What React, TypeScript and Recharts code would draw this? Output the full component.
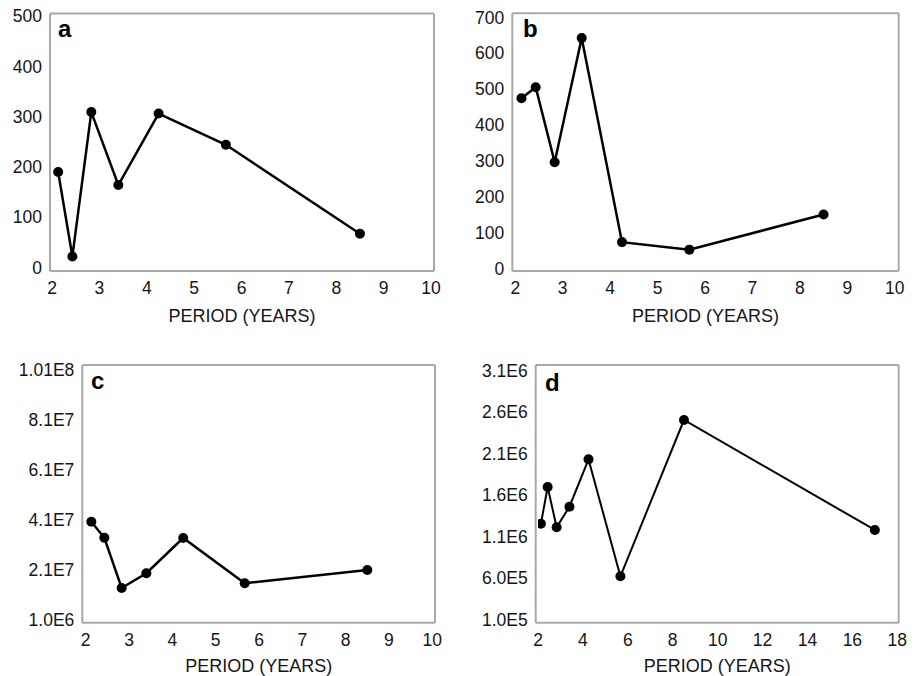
import React from 'react';
import { LineChart, Line, XAxis, YAxis, Label } from 'recharts';

// ---------- data ----------
const periodsABC = [2.13, 2.43, 2.83, 3.4, 4.25, 5.67, 8.5];
const periodsD = [2.13, 2.43, 2.83, 3.4, 4.25, 5.67, 8.5, 17];

const valuesA = [190, 22, 309, 164, 306, 244, 67];
const valuesB = [474, 505, 296, 642, 73, 52, 150];
const valuesC = [40.3e6, 33.9e6, 13.8e6, 19.7e6, 33.8e6, 15.7e6, 21.0e6];
const valuesD = [1.254e6, 1.696e6, 1.21e6, 1.459e6, 2.03e6, 0.619e6, 2.505e6, 1.178e6];

const xTicks10 = [2, 3, 4, 5, 6, 7, 8, 9, 10];
const xMinor10 = [2, 2.5, 3, 3.5, 4, 4.5, 5, 5.5, 6, 6.5, 7, 7.5, 8, 8.5, 9, 9.5, 10];
const xTicks18 = [2, 4, 6, 8, 10, 12, 14, 16, 18];
const xMinor18 = [2, 3, 4, 5, 6, 7, 8, 9, 10, 11, 12, 13, 14, 15, 16, 17, 18];

const yTicksA = [0, 100, 200, 300, 400, 500];
const yTicksB = [0, 100, 200, 300, 400, 500, 600, 700];
const yTicksC = [1e6, 2.1e7, 4.1e7, 6.1e7, 8.1e7, 1.01e8];
const yLabelsC = ['1.0E6', '2.1E7', '4.1E7', '6.1E7', '8.1E7', '1.01E8'];
const yTicksD = [1e5, 6e5, 1.1e6, 1.6e6, 2.1e6, 2.6e6, 3.1e6];
const yLabelsD = ['1.0E5', '6.0E5', '1.1E6', '1.6E6', '2.1E6', '2.6E6', '3.1E6'];

const xTitle = 'PERIOD (YEARS)';

const build = (xs: number[], ys: number[]) => xs.map((p, i) => ({ period: p, value: ys[i] }));

const GRAY = '#a8a8a8';
const FONT = '"Liberation Sans", Arial, sans-serif';

type PanelProps = {
  left: number; top: number; width: number; height: number;
  margin: { top: number; right: number; bottom: number; left: number };
  yWidth: number; xHeight: number;
  data: { period: number; value: number }[];
  xDomain: [number, number]; xTicks: number[]; xMinor: number[];
  yDomain: [number, number]; yTicks: number[]; yLabels?: string[];
  xPad: { left: number; right: number }; yPad: { top: number; bottom: number };
  labelOffset: number; strokeWidth: number;
};

function Panel(p: PanelProps) {
  const fmt = (v: number, i: number) => (p.yLabels ? p.yLabels[p.yTicks.indexOf(v)] ?? String(v) : String(v));
  return (
    <div style={{ position: 'absolute', left: p.left, top: p.top }}>
      <LineChart width={p.width} height={p.height} data={p.data} margin={p.margin}>
        <XAxis
          dataKey="period" type="number" domain={p.xDomain} ticks={p.xTicks} interval={0}
          padding={p.xPad} height={p.xHeight} allowDataOverflow
          axisLine={{ stroke: GRAY, strokeWidth: 2 }} tickLine={false} tickSize={0} tickMargin={11}
          tick={{ fontSize: 17.5, fill: '#151515', fontFamily: FONT }}
        >
          <Label value={xTitle} position="insideBottom" offset={p.labelOffset}
            style={{ fontSize: 18, fill: '#151515', fontFamily: FONT }} />
        </XAxis>
        <XAxis
          xAxisId="minor" dataKey="period" type="number" domain={p.xDomain} ticks={p.xMinor} interval={0}
          padding={p.xPad} height={20} mirror allowDataOverflow
          axisLine={false} tick={false} tickSize={3} tickLine={{ stroke: GRAY, strokeWidth: 1.5 }}
        />
        <XAxis
          xAxisId="top" orientation="top" dataKey="period" type="number" domain={p.xDomain} ticks={p.xTicks}
          padding={p.xPad} height={20} mirror allowDataOverflow
          axisLine={{ stroke: GRAY, strokeWidth: 2 }} tick={false} tickLine={false}
        />
        <YAxis
          type="number" domain={p.yDomain} ticks={p.yTicks} interval={0} width={p.yWidth}
          padding={p.yPad} allowDataOverflow tickFormatter={fmt}
          axisLine={{ stroke: GRAY, strokeWidth: 2 }} tickLine={false} tickSize={0} tickMargin={8}
          tick={{ fontSize: 17.5, fill: '#151515', fontFamily: FONT }}
        />
        <YAxis
          yAxisId="minor" type="number" domain={p.yDomain} ticks={p.yTicks} interval={0} width={20}
          padding={p.yPad} mirror allowDataOverflow
          axisLine={false} tick={false} tickSize={3} tickLine={{ stroke: GRAY, strokeWidth: 1.5 }}
        />
        <YAxis
          yAxisId="right" orientation="right" type="number" domain={p.yDomain} ticks={p.yTicks} width={20}
          padding={p.yPad} mirror allowDataOverflow
          axisLine={{ stroke: GRAY, strokeWidth: 2 }} tick={false} tickLine={false}
        />
        <Line
          type="linear" dataKey="value" stroke="#000" strokeWidth={p.strokeWidth}
          dot={{ r: 5, fill: '#000', stroke: '#000', strokeWidth: 0 }}
          isAnimationActive={false}
        />
      </LineChart>
    </div>
  );
}

export default function App() {
  return (
    <div style={{ position: 'absolute', left: 0, top: 0, width: 916, height: 676, background: '#fff', overflow: 'hidden' }}>
      <Panel
        left={0} top={0} width={458} height={340}
        margin={{ top: 13.5, right: 24, bottom: 9, left: 0 }} yWidth={50} xHeight={60}
        data={build(periodsABC, valuesA)}
        xDomain={[2, 10]} xTicks={xTicks10} xMinor={xMinor10}
        yDomain={[0, 500]} yTicks={yTicksA}
        xPad={{ left: 2, right: 3 }} yPad={{ top: 2.5, bottom: 3.5 }}
        labelOffset={9} strokeWidth={2.5}
      />
      <Panel
        left={458} top={0} width={458} height={340}
        margin={{ top: 13.3, right: 17.3, bottom: 9, left: 0 }} yWidth={54.3} xHeight={60}
        data={build(periodsABC, valuesB)}
        xDomain={[2, 10]} xTicks={xTicks10} xMinor={xMinor10}
        yDomain={[0, 700]} yTicks={yTicksB}
        xPad={{ left: 3, right: 4 }} yPad={{ top: 4, bottom: 2.7 }}
        labelOffset={9} strokeWidth={2.5}
      />
      <Panel
        left={0} top={340} width={458} height={336}
        margin={{ top: 25, right: 23, bottom: 0, left: 0 }} yWidth={82.3} xHeight={53.3}
        data={build(periodsABC, valuesC)}
        xDomain={[2, 10]} xTicks={xTicks10} xMinor={xMinor10}
        yDomain={[1e6, 1.01e8]} yTicks={yTicksC} yLabels={yLabelsC}
        xPad={{ left: 3.4, right: 2.7 }} yPad={{ top: 5, bottom: 2.7 }}
        labelOffset={4} strokeWidth={2.5}
      />
      <Panel
        left={458} top={340} width={458} height={336}
        margin={{ top: 25, right: 17.3, bottom: 0, left: 0 }} yWidth={77.7} xHeight={53.3}
        data={build(periodsD, valuesD)}
        xDomain={[2, 18]} xTicks={xTicks18} xMinor={xMinor18}
        yDomain={[1e5, 3.1e6]} yTicks={yTicksD} yLabels={yLabelsD}
        xPad={{ left: 2.3, right: 1.4 }} yPad={{ top: 5.7, bottom: 3.4 }}
        labelOffset={4} strokeWidth={2}
      />
      <svg width={916} height={676} style={{ position: 'absolute', left: 0, top: 0, pointerEvents: 'none' }}>
        <g style={{ fontFamily: FONT, fontWeight: 'bold', fontSize: 24 }} fill="#000">
          <text x={58} y={37}>a</text>
          <text x={523} y={37}>b</text>
          <text x={91} y={389}>c</text>
          <text x={545} y={391}>d</text>
        </g>
      </svg>
    </div>
  );
}
